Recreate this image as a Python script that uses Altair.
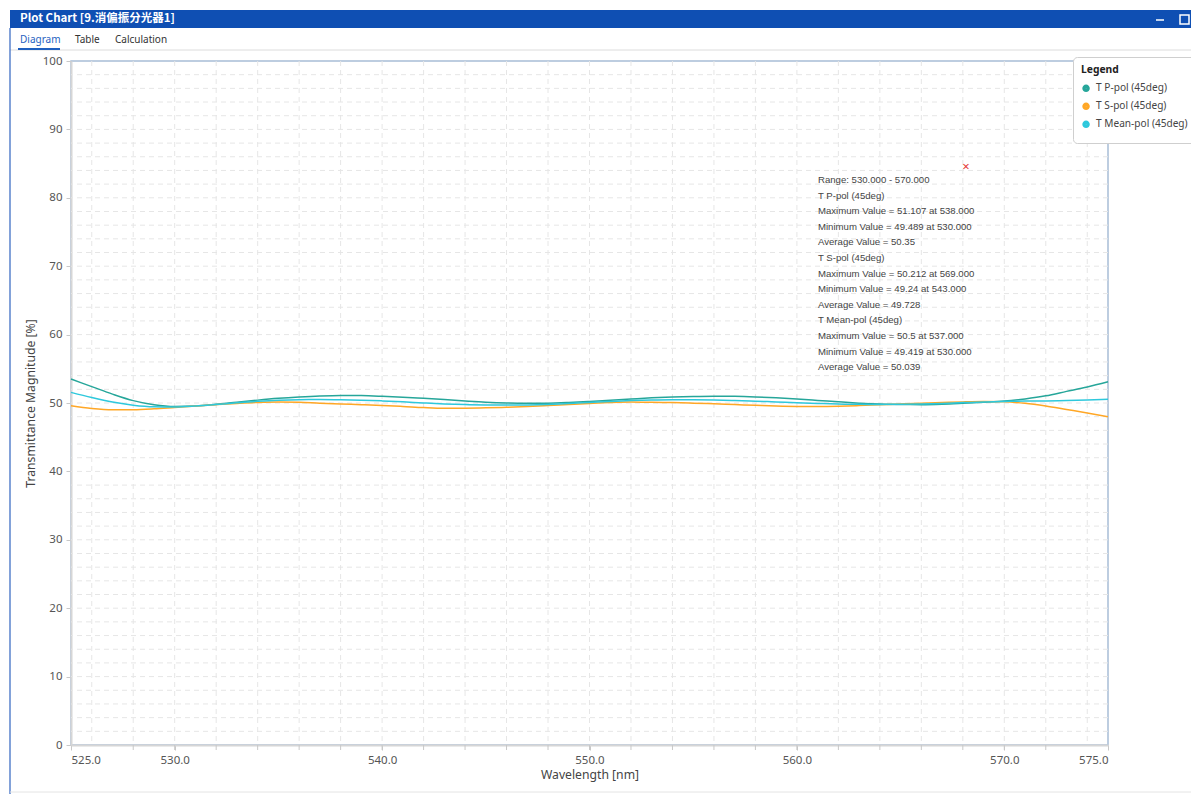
import altair as alt
import pandas as pd

# ---------------- data ----------------
wavelength = list(range(525, 576))

t_p_pol = [53.5, 52.4, 51.3, 50.35, 49.75, 49.489, 49.56, 49.8, 50.12, 50.42,
           50.68, 50.88, 51.03, 51.107, 51.08, 50.98, 50.85, 50.68, 50.5, 50.3,
           50.12, 50.0, 49.95, 49.97, 50.07, 50.22, 50.4, 50.58, 50.75, 50.88,
           50.96, 51.0, 50.97, 50.88, 50.75, 50.58, 50.38, 50.17, 49.98, 49.84,
           49.77, 49.76, 49.82, 49.95, 50.1, 50.28, 50.6, 51.05, 51.7, 52.35,
           53.1]

t_s_pol = [49.6, 49.2, 49.0, 49.02, 49.15, 49.35, 49.55, 49.75, 49.93, 50.08,
           50.15, 50.1, 49.97, 49.86, 49.75, 49.64, 49.5, 49.34, 49.24, 49.25,
           49.3, 49.38, 49.48, 49.62, 49.78, 49.93, 50.06, 50.13, 50.12, 50.06,
           49.98, 49.88, 49.77, 49.66, 49.56, 49.5, 49.49, 49.53, 49.62, 49.74,
           49.86, 49.97, 50.07, 50.16, 50.212, 50.17, 49.95, 49.55, 49.05, 48.55,
           48.0]

t_mean_pol = [51.55, 50.8, 50.15, 49.685, 49.45, 49.419, 49.555, 49.775, 50.025, 50.25,
              50.415, 50.49, 50.5, 50.48, 50.415, 50.31, 50.175, 50.01, 49.87, 49.775,
              49.71, 49.69, 49.715, 49.795, 49.925, 50.075, 50.23, 50.355, 50.435, 50.47,
              50.47, 50.44, 50.37, 50.27, 50.155, 50.04, 49.935, 49.85, 49.8, 49.79,
              49.815, 49.865, 49.945, 50.055, 50.156, 50.225, 50.275, 50.3, 50.375, 50.45,
              50.55]

series_names = ["T P-pol (45deg)", "T S-pol (45deg)", "T Mean-pol (45deg)"]
series_colors = ["#26a69a", "#ffa726", "#2ec8dc"]

x_major_ticks = [525, 530, 540, 550, 560, 570, 575]
x_minor_ticks = list(range(528, 573, 2))
x_grid_values = list(range(526, 575, 2))
y_major_ticks = list(range(0, 101, 10))
y_grid_values = list(range(2, 100, 2))

annotation_lines = [
    "Range: 530.000 - 570.000",
    "T P-pol (45deg)",
    "Maximum Value = 51.107 at 538.000",
    "Minimum Value = 49.489 at 530.000",
    "Average Value = 50.35",
    "T S-pol (45deg)",
    "Maximum Value = 50.212 at 569.000",
    "Minimum Value = 49.24 at 543.000",
    "Average Value = 49.728",
    "T Mean-pol (45deg)",
    "Maximum Value = 50.5 at 537.000",
    "Minimum Value = 49.419 at 530.000",
    "Average Value = 50.039",
]

window_title = "Plot Chart [9.消偏振分光器1]"
tab_labels = ["Diagram", "Table", "Calculation"]

# ---------------- build tables ----------------
rows = []
for name, vals in zip(series_names, [t_p_pol, t_s_pol, t_mean_pol]):
    for w, v in zip(wavelength, vals):
        rows.append({"wl": w, "T": v, "series": name})
df = pd.DataFrame(rows)

W, H = 1037, 684
FONT = "Noto Sans"

xscale = alt.Scale(domain=[525, 575], nice=False, zero=False)
yscale = alt.Scale(domain=[0, 100], nice=False)

x_axis = alt.Axis(values=x_major_ticks, format=".1f", title="Wavelength [nm]",
                  labelFlush=True, grid=False)
y_axis = alt.Axis(values=y_major_ticks, title="Transmittance Magnitude [%]", grid=False)

one = pd.DataFrame({"d": [0]})

# grid
xgrid = alt.Chart(pd.DataFrame({"wl": x_grid_values})).mark_rule(
    color="#e6e6e6", strokeDash=[5, 4], strokeWidth=1
).encode(x=alt.X("wl:Q", scale=xscale, axis=x_axis))

ygrid = alt.Chart(pd.DataFrame({"T": y_grid_values})).mark_rule(
    color="#e6e6e6", strokeDash=[5, 4], strokeWidth=1
).encode(y=alt.Y("T:Q", scale=yscale, axis=y_axis))

minor_ticks = alt.Chart(pd.DataFrame({"wl": x_minor_ticks})).mark_rule(
    color="#c8c8c8", strokeWidth=1
).encode(x=alt.X("wl:Q", scale=xscale, axis=x_axis), y=alt.value(H), y2=alt.value(H + 5))

lines = alt.Chart(df).mark_line(strokeWidth=1.5, interpolate="monotone").encode(
    x=alt.X("wl:Q", scale=xscale, axis=x_axis),
    y=alt.Y("T:Q", scale=yscale, axis=y_axis),
    color=alt.Color("series:N",
                    scale=alt.Scale(domain=series_names, range=series_colors),
                    legend=alt.Legend(title="Legend", orient="none", legendX=1002, legendY=-4,
                                      symbolType="circle", symbolSize=12,
                                      symbolStrokeWidth=4,
                                      fillColor="white", strokeColor="#cfcfcf",
                                      cornerRadius=4, padding=8, labelOffset=5)),
    order=alt.Order("wl:Q"),
)

# annotation
annot = alt.Chart(one).mark_text(
    text=annotation_lines, align="left", baseline="top", font="Liberation Sans",
    fontSize=9.6, lineHeight=15.6, color="#444444"
).encode(x=alt.value(747), y=alt.value(114))

cross = alt.Chart(one).mark_text(
    text="×", align="center", baseline="middle", fontSize=13, color="#e53935", font=FONT
).encode(x=alt.value(895), y=alt.value(106))

# window chrome
title_bar = alt.Chart(one).mark_rect(color="#0f4fb3").encode(
    x=alt.value(-61), x2=alt.value(W + 90), y=alt.value(-51), y2=alt.value(-33))
title_text = alt.Chart(one).mark_text(
    text=window_title, align="left", baseline="middle", fontSize=11.5, fontWeight="bold",
    color="white", font="Noto Sans CJK SC"
).encode(x=alt.value(-51), y=alt.value(-42))
minimize = alt.Chart(one).mark_rule(color="white", strokeWidth=1.5).encode(
    x=alt.value(1085), x2=alt.value(1093), y=alt.value(-41))
maximize = alt.Chart(one).mark_rect(fill=None, stroke="white", strokeWidth=1.5).encode(
    x=alt.value(1109), x2=alt.value(1118), y=alt.value(-46), y2=alt.value(-37))

tab_x = [-51, 4, 44]
tab_colors = ["#1f5fbf", "#333333", "#333333"]
tabs = [
    alt.Chart(one).mark_text(text=t, align="left", baseline="middle", fontSize=10,
                             color=c, font=FONT).encode(x=alt.value(x), y=alt.value(-21))
    for t, x, c in zip(tab_labels, tab_x, tab_colors)
]
tab_line = alt.Chart(one).mark_rule(color="#dcdcdc", strokeWidth=1).encode(
    x=alt.value(-61), x2=alt.value(W + 90), y=alt.value(-11))
tab_underline = alt.Chart(one).mark_rule(color="#1f5fbf", strokeWidth=2).encode(
    x=alt.value(-53), x2=alt.value(-11), y=alt.value(-12))
left_border = alt.Chart(one).mark_rule(color="#2f63c0", strokeWidth=1.2).encode(
    x=alt.value(-61), y=alt.value(-33), y2=alt.value(H + 50))
bottom_line = alt.Chart(one).mark_rule(color="#e4e4e4", strokeWidth=1).encode(
    x=alt.value(-61), x2=alt.value(W + 90), y=alt.value(H + 47))

chart = alt.layer(
    xgrid, ygrid, minor_ticks, lines, annot, cross,
    title_bar, title_text, minimize, maximize, *tabs, tab_line, tab_underline,
    left_border, bottom_line
).properties(
    width=W, height=H,
    autosize=alt.AutoSizeParams(type="none"),
    padding={"left": 63, "top": 53, "right": 83, "bottom": 49},
).configure_view(
    stroke="#a8bdd6", strokeWidth=1.5
).configure_axis(
    labelFont=FONT, titleFont=FONT, labelFontSize=11.5, titleFontSize=12.2,
    labelColor="#555555", titleColor="#444444", titleFontWeight="normal",
    domainColor="#d6d6d6", domainWidth=2, tickColor="#c8c8c8", tickSize=5,
    labelPadding=4,
).configure_axisX(
    titlePadding=3
).configure_axisY(
    titlePadding=5
).configure_legend(
    titleFont=FONT, labelFont=FONT, titleFontSize=10.3, labelFontSize=10.1,
    titleColor="#222222", labelColor="#444444", titleFontWeight="bold",
    rowPadding=-2, titlePadding=8
)

chart.save("out.html", embed_options={"renderer": "svg", "actions": False})
